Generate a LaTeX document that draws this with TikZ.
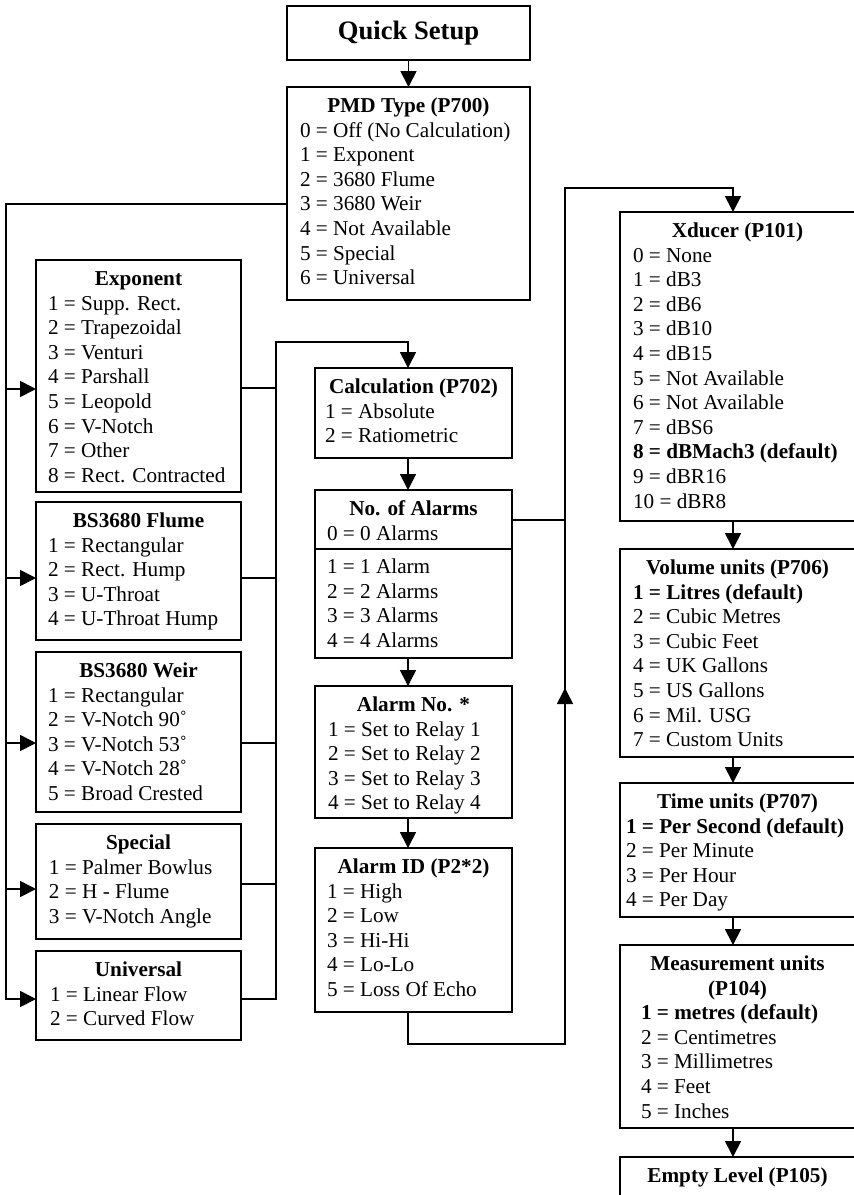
\documentclass[tikz,border=0pt]{standalone}
\usepackage{fontspec}
\setmainfont{Liberation Serif}
\usetikzlibrary{arrows.meta}
\newcommand{\mypanel}[5]{\parbox[t][#2][t]{#1}{\fontsize{21.2pt}{24.6pt}\selectfont\vspace*{8.3pt}\centering\textbf{\strut #4}\par\raggedright\leftskip=#3\relax #5\par}}
\begin{document}
\begin{tikzpicture}[x=1pt,y=-1pt,
  box/.style={draw, line width=1.7pt, inner sep=0pt, outer sep=0pt, anchor=north west},
  link/.style={line width=1.7pt},
  arr/.style={line width=1.7pt, -{Triangle[length=16pt,width=16pt]}}]
\useasboundingbox (0,0) rectangle (854,1195);
% boxes
\node[box, minimum width=243pt, minimum height=54pt, font=\fontsize{26.6pt}{30pt}\selectfont\bfseries] (qs) at (287,6) {Quick Setup};
\node[box] (pmd) at (287,87) {\mypanel{243pt}{213pt}{13pt}{PMD Type (P700)}{0 = Off (No Calculation)\\1 = Exponent\\2 = 3680 Flume\\3 = 3680 Weir\\4 = Not Available\\5 = Special\\6 = Universal}};
\node[box] (exp) at (36,260) {\mypanel{205pt}{232pt}{12pt}{Exponent}{1 = Supp. Rect.\\2 = Trapezoidal\\3 = Venturi\\4 = Parshall\\5 = Leopold\\6 = V-Notch\\7 = Other\\8 = Rect. Contracted}};
\node[box] (flume) at (36,502) {\mypanel{205pt}{138pt}{12pt}{BS3680 Flume}{1 = Rectangular\\2 = Rect. Hump\\3 = U-Throat\\4 = U-Throat Hump}};
\node[box] (weir) at (36,652) {\mypanel{205pt}{160pt}{12pt}{BS3680 Weir}{1 = Rectangular\\2 = V-Notch 90˚\\3 = V-Notch 53˚\\4 = V-Notch 28˚\\5 = Broad Crested}};
\node[box] (special) at (36,824) {\mypanel{205pt}{115pt}{13pt}{Special}{1 = Palmer Bowlus\\2 = H - Flume\\3 = V-Notch Angle}};
\node[box] (univ) at (36,951) {\mypanel{205pt}{89pt}{14pt}{Universal}{1 = Linear Flow\\2 = Curved Flow}};
\node[box] (calc) at (315,368) {\mypanel{197pt}{90pt}{10pt}{Calculation (P702)}{1 = Absolute\\2 = Ratiometric}};
\node[box] (alarms) at (315,490) {\mypanel{197pt}{168pt}{12pt}{No. of Alarms}{0 = 0 Alarms\strut\par\vspace{0.7pt}\hrule height 1.7pt\vspace{6.4pt}\strut 1 = 1 Alarm\\2 = 2 Alarms\\3 = 3 Alarms\\4 = 4 Alarms}};
\node[box] (alarmno) at (315,686) {\mypanel{197pt}{132pt}{13pt}{Alarm No. *}{1 = Set to Relay 1\\2 = Set to Relay 2\\3 = Set to Relay 3\\4 = Set to Relay 4}};
\node[box] (alarmid) at (315,848) {\mypanel{197pt}{164pt}{12pt}{Alarm ID (P2*2)}{1 = High\\2 = Low\\3 = Hi-Hi\\4 = Lo-Lo\\5 = Loss Of Echo}};
\node[box] (xd) at (620,212) {\mypanel{235pt}{309pt}{13pt}{Xducer (P101)}{0 = None\\1 = dB3\\2 = dB6\\3 = dB10\\4 = dB15\\5 = Not Available\\6 = Not Available\\7 = dBS6\\\textbf{8 = dBMach3 (default)}\\9 = dBR16\\10 = dBR8}};
\node[box] (vol) at (620,549) {\mypanel{235pt}{208pt}{13pt}{Volume units (P706)}{\textbf{1 = Litres (default)}\\2 = Cubic Metres\\3 = Cubic Feet\\4 = UK Gallons\\5 = US Gallons\\6 = Mil. USG\\7 = Custom Units}};
\node[box] (time) at (620,783) {\mypanel{235pt}{134pt}{6pt}{Time units (P707)}{\textbf{1 = Per Second (default)}\\2 = Per Minute\\3 = Per Hour\\4 = Per Day}};
\node[box] (meas) at (620,945) {\mypanel{235pt}{183pt}{21pt}{Measurement units\\(P104)}{\textbf{1 = metres (default)}\\2 = Centimetres\\3 = Millimetres\\4 = Feet\\5 = Inches}};
\node[box] (empty) at (620,1157) {\mypanel{235pt}{80pt}{13pt}{Empty Level (P105)}{}};
% helper coordinates
\coordinate (lbTop) at (6,204);
\coordinate (la1) at (6,389);
\coordinate (la2) at (6,578);
\coordinate (la3) at (6,743);
\coordinate (la4) at (6,889);
\coordinate (la5) at (6,999);
\coordinate (ra1) at (276,388);
\coordinate (ra2) at (276,578);
\coordinate (ra3) at (276,743);
\coordinate (ra4) at (276,884);
\coordinate (ra5) at (276,999);
\coordinate (rtop) at (276,342);
\coordinate (mx) at (408,342);
\coordinate (na) at (565,520);
\coordinate (lpA) at (408,1044);
\coordinate (lpB) at (565,1044);
\coordinate (lpUp) at (565,688);
\coordinate (lpTop) at (565,188);
\coordinate (xx) at (733,188);
% connectors
\draw[arr] (qs.south) -- (pmd.north);
\draw[arr] (pmd.west |- lbTop) -- (lbTop) -- (la5) -- (la5 -| univ.west);
\draw[arr] (la1) -- (la1 -| exp.west);
\draw[arr] (la2) -- (la2 -| flume.west);
\draw[arr] (la3) -- (la3 -| weir.west);
\draw[arr] (la4) -- (la4 -| special.west);
\draw[link] (ra1 -| exp.east) -- (ra1);
\draw[link] (ra2 -| flume.east) -- (ra2);
\draw[link] (ra3 -| weir.east) -- (ra3);
\draw[link] (ra4 -| special.east) -- (ra4);
\draw[arr] (ra5 -| univ.east) -- (ra5) -- (rtop) -- (mx) -- (mx |- calc.north);
\draw[arr] (calc.south -| mx) -- (alarms.north -| mx);
\draw[arr] (alarms.south -| mx) -- (alarmno.north -| mx);
\draw[arr] (alarmno.south -| mx) -- (alarmid.north -| mx);
\draw[link] (alarms.east |- na) -- (na);
\draw[arr] (alarmid.south -| mx) -- (lpA) -- (lpB) -- (lpTop) -- (xx) -- (xx |- xd.north);
\draw[arr] (lpB) -- (lpUp);
\draw[arr] (xd.south -| xx) -- (vol.north -| xx);
\draw[arr] (vol.south -| xx) -- (time.north -| xx);
\draw[arr] (time.south -| xx) -- (meas.north -| xx);
\draw[arr] (meas.south -| xx) -- (empty.north -| xx);
\end{tikzpicture}
\end{document}
